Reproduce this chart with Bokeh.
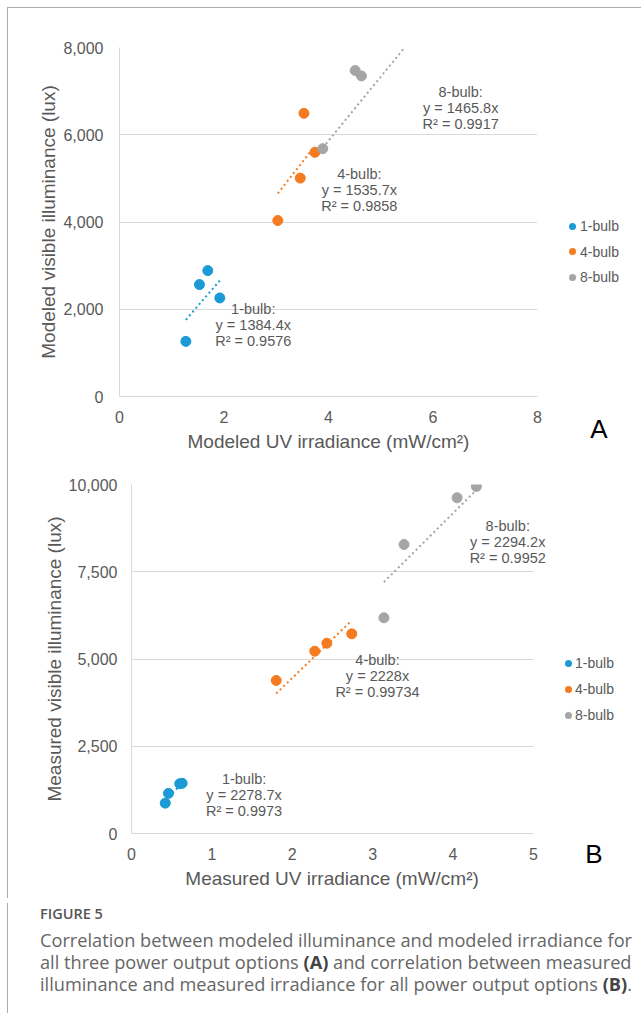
from bokeh.plotting import figure
from bokeh.models import (Range1d, FixedTicker, NumeralTickFormatter, Div,
                          ColumnDataSource, Grid)
from bokeh.layouts import row
from bokeh.embed import file_html
from bokeh.resources import INLINE
from bokeh.core.properties import value

# ---------------- data ----------------
series = ["1-bulb", "4-bulb", "8-bulb"]
colors = ["#1B9AD6", "#F47B20", "#A5A5A5"]

# Panel A: modeled
a1_x = [1.27, 1.53, 1.69, 1.92]
a1_y = [1263, 2565, 2886, 2259]
a4_x = [3.03, 3.46, 3.53, 3.74]
a4_y = [4034, 5006, 6491, 5596]
a8_x = [3.89, 4.51, 4.63]
a8_y = [5681, 7472, 7348]
a_slopes = [1384.4, 1535.7, 1465.8]
a_slope_txt = ["1384.4", "1535.7", "1465.8"]
a_r2 = ["0.9576", "0.9858", "0.9917"]
a_trend_x0 = [1.27, 3.03, 3.89]
a_trend_x1 = [1.92, 3.74, 5.46]
a_xticks = [0, 2, 4, 6, 8]
a_yticks = [0, 2000, 4000, 6000, 8000]

# Panel B: measured
b1_x = [0.42, 0.46, 0.60, 0.63]
b1_y = [870, 1150, 1425, 1440]
b4_x = [1.80, 2.28, 2.43, 2.74]
b4_y = [4384, 5224, 5453, 5721]
b8_x = [3.14, 3.39, 4.05, 4.29]
b8_y = [6180, 8281, 9619, 9943]
b_slopes = [2278.7, 2228.0, 2294.2]
b_slope_txt = ["2278.7", "2228", "2294.2"]
b_r2 = ["0.9973", "0.99734", "0.9952"]
b_trend_x0 = [0.42, 1.80, 3.14]
b_trend_x1 = [0.63, 2.74, 4.29]
b_xticks = [0, 1, 2, 3, 4, 5]
b_yticks = [0, 2500, 5000, 7500, 10000]

# label positions (data coords, centre of middle line)
a_lab_x = [2.56, 4.59, 6.53]
a_lab_y = [1631, 4739, 6614]
b_lab_x = [1.40, 3.06, 4.68]
b_lab_y = [1117, 4518, 8350]

FONT = "Liberation Sans"
TXT = "#595959"
GRID = "#D9D9D9"
FRAME = "1px solid #ABABAB"
HAS_CROSS = "cross_bounds" in Grid.properties()


def make_fig(width, height, xr, xview, yr, xticks, yticks, xlabel, ylabel, borders,
             ylab_standoff):
    left, right, top, bottom = borders
    p = figure(width=width, height=height, x_range=Range1d(*xview), y_range=Range1d(*yr),
               output_backend="svg", toolbar_location=None,
               min_border_left=left, min_border_right=right,
               min_border_top=top, min_border_bottom=bottom)
    p.outline_line_color = None
    p.background_fill_color = "white"
    p.border_fill_color = "white"
    p.xgrid.visible = False
    if HAS_CROSS or tuple(xview) == tuple(xr):
        p.ygrid.grid_line_color = GRID
        p.ygrid.ticker = FixedTicker(ticks=yticks)
        if HAS_CROSS:
            p.ygrid.cross_bounds = xr
    else:
        p.ygrid.visible = False
        p.segment(x0=[xr[0]] * len(yticks), x1=[xr[1]] * len(yticks), y0=yticks,
                  y1=yticks, line_color=GRID, line_width=1)
    p.xaxis.ticker = FixedTicker(ticks=xticks)
    p.xaxis.bounds = xr
    p.yaxis.ticker = FixedTicker(ticks=yticks)
    p.yaxis.formatter = NumeralTickFormatter(format="0,0")
    for ax in (p.xaxis[0], p.yaxis[0]):
        ax.axis_line_color = GRID
        ax.major_tick_line_color = None
        ax.minor_tick_line_color = None
        ax.major_tick_out = 0
        ax.major_tick_in = 0
        ax.major_label_text_font = FONT
        ax.major_label_text_font_size = "16px"
        ax.major_label_text_color = TXT
        ax.axis_label_text_font = FONT
        ax.axis_label_text_font_size = "19px"
        ax.axis_label_text_font_style = "normal"
        ax.axis_label_text_color = TXT
    p.xaxis.axis_label = xlabel
    p.yaxis.axis_label = ylabel
    p.xaxis.major_label_standoff = 14
    p.xaxis.axis_label_standoff = 5
    p.yaxis.major_label_standoff = ylab_standoff
    p.yaxis.axis_label_standoff = 1
    return p


def populate(p, xs, ys, slopes, slope_txt, r2, tx0, tx1, lab_x, lab_y):
    for i, s in enumerate(series):
        src_t = ColumnDataSource(dict(x=[tx0[i], tx1[i]],
                                      y=[slopes[i] * tx0[i], slopes[i] * tx1[i]]))
        p.line("x", "y", source=src_t, line_color=colors[i], line_width=2,
               line_dash="2 3")
        src = ColumnDataSource(dict(x=xs[i], y=ys[i]))
        p.scatter("x", "y", source=src, size=10, fill_color=colors[i],
                  line_color=colors[i])
        lines = [s + ":", "y = " + slope_txt[i] + "x", "R\u00b2 = " + r2[i]]
        for k, t in enumerate(lines):
            p.text(x=[lab_x[i]], y=[lab_y[i]], text=[t], text_align="center",
                   text_baseline="middle", y_offset=(k - 1) * 16,
                   text_font=value(FONT), text_font_size="14.5px", text_color=TXT)


def side_div(width, height, dot_x, text_x, row_y0, row_step, letter, letter_xy):
    parts = ['<div style="position:relative;width:%dpx;height:%dpx;font-family:\'%s\';">'
             % (width, height, FONT)]
    for i, s in enumerate(series):
        cy = row_y0 + i * row_step
        parts.append('<span style="position:absolute;left:%.1fpx;top:%.1fpx;width:7px;height:7px;'
                     'border-radius:50%%;background:%s;"></span>' % (dot_x - 3.5, cy - 3.5, colors[i]))
        parts.append('<span style="position:absolute;left:%.1fpx;top:%.1fpx;font-size:14px;'
                     'line-height:18px;color:%s;white-space:nowrap;">%s</span>' % (text_x, cy - 9, TXT, s))
    parts.append('<span style="position:absolute;left:%.1fpx;top:%.1fpx;width:30px;text-align:center;'
                 'font-size:26px;line-height:30px;color:#000;">%s</span>'
                 % (letter_xy[0] - 15, letter_xy[1] - 15, letter))
    parts.append('</div>')
    return Div(text="".join(parts), width=width, height=height,
               styles={"overflow": "visible"})


# ---------- panel A ----------
pA = make_fig(539, 450, (0, 8), (0, 8), (0, 8000), a_xticks, a_yticks,
              "Modeled UV irradiance (mW/cm\u00b2)", "Modeled visible illuminance (lux)",
              (111, 10, 39, 62), 16)
populate(pA, [a1_x, a4_x, a8_x], [a1_y, a4_y, a8_y], a_slopes, a_slope_txt, a_r2,
         a_trend_x0, a_trend_x1, a_lab_x, a_lab_y)
sideA = side_div(85, 432, 20, 28, 213, 25.5, "A", (47, 416))
rowA = row(pA, sideA, spacing=0,
           styles={"margin-left": "7px", "margin-top": "7px",
                   "border-left": FRAME, "border-top": FRAME})

# ---------- panel B (frame widened right so the 8-bulb label is not clipped) ----------
# trailing no-break spaces keep the title centred on the 0-5 axis rather than the wider frame
pB = make_fig(540, 440, (0, 5), (0, 5.187), (0, 10000), b_xticks, b_yticks,
              "Measured UV irradiance (mW/cm\u00b2)\u00a0\u00a0\u00a0",
              "Measured visible illuminance (lux)",
              (123, 0, 26, 65), 14)
populate(pB, [b1_x, b4_x, b8_x], [b1_y, b4_y, b8_y], b_slopes, b_slope_txt, b_r2,
         b_trend_x0, b_trend_x1, b_lab_x, b_lab_y)
sideB = side_div(84, 418, 15, 22, 200.3, 26, "B", (41, 391))
rowB = row(pB, sideB, spacing=0, styles={"margin-left": "7px", "border-left": FRAME})

# ---------- caption ----------
caption_html = (
    '<div style="padding-left:32px;padding-top:2px;font-family:\'Open Sans\';white-space:nowrap;">'
    '<div style="font-weight:600;font-size:14.5px;line-height:18px;color:#555555;">FIGURE 5</div>'
    '<div style="font-size:18.2px;line-height:22px;margin-top:6px;color:#666666;">'
    'Correlation between modeled illuminance and modeled irradiance for<br>'
    'all three power output options <b style="color:#444">(A)</b> and correlation between measured<br>'
    'illuminance and measured irradiance for all power output options <b style="color:#444">(B)</b>.'
    '</div></div>'
)
cap = Div(text=caption_html, width=624, height=110,
          styles={"margin-left": "7px", "border-left": FRAME})

open("out.html", "w").write(file_html([rowA, rowB, cap], INLINE))
